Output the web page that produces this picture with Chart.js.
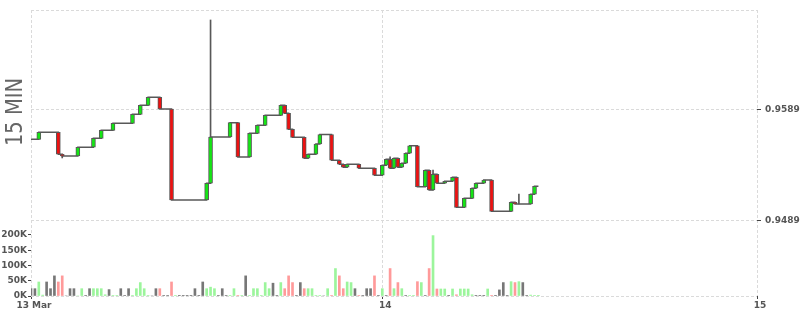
<!DOCTYPE html>
<html>
<head>
<meta charset="utf-8">
<script src="https://cdn.jsdelivr.net/npm/chart.js@4.4.1/dist/chart.umd.min.js"></script>
<style>
    body { margin: 0; background: #fff; }
    #wrap { width: 800px; height: 315px; }
</style>
</head>
<body>
<div id="wrap"><canvas id="myChart" width="800" height="315"></canvas></div>
<script>
// 15 min candles, first one 13 Mar 01:30 (x in hours from 13 Mar 00:00)
const startHour = 1.5
const stepHours = 0.25

const opens = [
    0.95626, 0.95626, 0.95626, 0.95689, 0.95689, 0.95689, 0.95689, 0.95689, 0.95491, 0.95476,
    0.95476, 0.95476, 0.95476, 0.95554, 0.95554, 0.95554, 0.95554, 0.95635, 0.95635, 0.95707,
    0.95707, 0.95707, 0.95770, 0.95770, 0.95770, 0.95770, 0.95770, 0.95851, 0.95851, 0.95932,
    0.95932, 0.96004, 0.96004, 0.96004, 0.95899, 0.95899, 0.95899, 0.95079, 0.95079, 0.95079,
    0.95079, 0.95079, 0.95079, 0.95079, 0.95079, 0.95079, 0.95230, 0.95647, 0.95647, 0.95647,
    0.95647, 0.95647, 0.95776, 0.95776, 0.95467, 0.95467, 0.95467, 0.95680, 0.95680, 0.95752,
    0.95752, 0.95842, 0.95842, 0.95842, 0.95842, 0.95932, 0.95860, 0.95716, 0.95644, 0.95644,
    0.95644, 0.95455, 0.95491, 0.95491, 0.95584, 0.95669, 0.95669, 0.95669, 0.95437, 0.95437,
    0.95401, 0.95374, 0.95401, 0.95401, 0.95401, 0.95365, 0.95365, 0.95365, 0.95365, 0.95302,
    0.95302, 0.95392, 0.95446, 0.95365, 0.95455, 0.95374, 0.95410, 0.95500, 0.95568, 0.95568,
    0.95199, 0.95199, 0.95347, 0.95169, 0.95311, 0.95230, 0.95230, 0.95248, 0.95248, 0.95284,
    0.95013, 0.95013, 0.95094, 0.95094, 0.95185, 0.95230, 0.95230, 0.95259, 0.95259, 0.94977,
    0.94977, 0.94977, 0.94977, 0.94977, 0.95058, 0.95043, 0.95043, 0.95043, 0.95043, 0.95131,
    0.95203
]
const closes = [
    0.95626, 0.95626, 0.95689, 0.95689, 0.95689, 0.95689, 0.95689, 0.95491, 0.95476, 0.95476,
    0.95476, 0.95476, 0.95554, 0.95554, 0.95554, 0.95554, 0.95635, 0.95635, 0.95707, 0.95707,
    0.95707, 0.95770, 0.95770, 0.95770, 0.95770, 0.95770, 0.95851, 0.95851, 0.95932, 0.95932,
    0.96004, 0.96004, 0.96004, 0.95899, 0.95899, 0.95899, 0.95079, 0.95079, 0.95079, 0.95079,
    0.95079, 0.95079, 0.95079, 0.95079, 0.95079, 0.95230, 0.95647, 0.95647, 0.95647, 0.95647,
    0.95647, 0.95776, 0.95776, 0.95467, 0.95467, 0.95467, 0.95680, 0.95680, 0.95752, 0.95752,
    0.95842, 0.95842, 0.95842, 0.95842, 0.95932, 0.95860, 0.95716, 0.95644, 0.95644, 0.95644,
    0.95455, 0.95491, 0.95491, 0.95584, 0.95669, 0.95669, 0.95669, 0.95437, 0.95437, 0.95401,
    0.95374, 0.95401, 0.95401, 0.95401, 0.95365, 0.95365, 0.95365, 0.95365, 0.95302, 0.95302,
    0.95392, 0.95446, 0.95365, 0.95455, 0.95374, 0.95410, 0.95500, 0.95568, 0.95568, 0.95199,
    0.95199, 0.95347, 0.95169, 0.95311, 0.95230, 0.95230, 0.95248, 0.95248, 0.95284, 0.95013,
    0.95013, 0.95094, 0.95094, 0.95185, 0.95230, 0.95230, 0.95259, 0.95259, 0.94977, 0.94977,
    0.94977, 0.94977, 0.94977, 0.95058, 0.95043, 0.95043, 0.95043, 0.95043, 0.95131, 0.95203,
    0.95203
]
// candles with a visible wick: index, low, high
const wickAt = [8, 46, 92, 103, 125]
const wickLow = [0.95458, 0.95230, 0.95365, 0.95169, 0.95043]
const wickHigh = [0.95491, 0.96701, 0.95469, 0.95349, 0.95133]

// volume in thousands, and its colour: 1 up, -1 down, 0 unchanged
const volumes = [
    24, 24, 46, 3, 46, 24, 66, 46, 66, 0,
    24, 24, 0, 24, 2, 24, 24, 24, 24, 4,
    21, 2, 2, 24, 2, 24, 2, 24, 44, 24,
    2, 0, 24, 24, 2, 2, 46, 2, 1, 1,
    1, 1, 24, 1, 46, 24, 29, 24, 2, 24,
    2, 2, 24, 2, 2, 66, 2, 24, 24, 2,
    44, 24, 42, 2, 44, 24, 66, 44, 2, 44,
    24, 24, 24, 2, 2, 0, 24, 2, 90, 66,
    24, 46, 44, 24, 2, 2, 24, 24, 66, 2,
    24, 2, 90, 24, 44, 24, 2, 2, 2, 47,
    44, 2, 90, 198, 23, 23, 23, 1, 23, 4,
    23, 23, 23, 4, 1, 1, 1, 23, 1, 1,
    20, 44, 2, 47, 44, 47, 44, 2, 3, 2,
    1
]
const volDir = [
    0, 0, 1, 1, 0, 0, 0, -1, -1, 0,
    0, 0, 1, 1, 0, 0, 1, 1, 1, 1,
    0, 1, 1, 0, 0, 0, 1, 1, 1, 1,
    1, 0, 0, -1, 0, 0, -1, 1, 0, 0,
    0, 0, 0, 0, 0, 1, 1, 1, 0, 0,
    0, 1, 1, -1, 1, 0, 1, 1, 1, 1,
    1, 1, 0, 0, 1, -1, -1, -1, 0, 0,
    -1, 1, 1, 1, 1, 0, 1, -1, 1, -1,
    -1, 1, 1, 0, -1, 0, 0, 0, -1, 0,
    1, 0, -1, 1, -1, 1, 0, 1, 1, -1,
    1, 0, -1, 1, -1, 1, 1, 0, 1, -1,
    1, 1, 1, 1, 0, 0, 0, 1, -1, 0,
    0, 0, 0, 1, -1, 1, 0, 0, 1, 1,
    1
]

const dayTicks = [1.5, 24, 48]
const dayLabels = ['13 Mar', '14', '15']
const priceTicks = [0.9489, 0.9589]
const priceMin = 0.942143
const priceMax = 0.967909
const volTicks = [0, 50, 100, 150, 200]
const volMax = 937.7

document.addEventListener('DOMContentLoaded', () => {
    drawChart()
})

function drawChart() {
    Chart.defaults.font.family = '"DejaVu Sans", Verdana, sans-serif'
    Chart.defaults.font.size = 9
    Chart.defaults.font.weight = 'bold'
    Chart.defaults.color = '#555'

    let times = closes.map((c, i) => startHour + i * stepHours)

    // candle bodies (flat candles have no body)
    let bodies = []
    let bodyColors = []
    closes.forEach((c, i) => {
        if (c === opens[i]) return
        bodies.push({ x: times[i], y: [opens[i], c] })
        bodyColors.push(c > opens[i] ? '#14e614' : '#ee1111')
    })

    let wicks = wickAt.map((i, k) => ({ x: times[i], y: [wickLow[k], wickHigh[k]] }))
    let closeLine = closes.map((c, i) => ({ x: times[i], y: c }))
    let vols = volumes.map((v, i) => ({ x: times[i], y: v * 1000 }))
    let volColors = volDir.map(d => d > 0 ? '#9cf59c' : (d < 0 ? '#ff9a9a' : '#777777'))

    const gridColor = '#dadada'
    const dash = [3, 2]

    // big rotated "15 MIN" caption on the left
    const sideTitle = {
        id: 'sideTitle',
        afterDraw(chart) {
            let ctx = chart.ctx
            ctx.save()
            ctx.translate(16, 112)
            ctx.rotate(-Math.PI / 2)
            ctx.font = '23px "DejaVu Sans", sans-serif'
            ctx.fillStyle = '#666'
            ctx.textAlign = 'center'
            ctx.textBaseline = 'middle'
            ctx.fillText('15 MIN', 0, 0, 68)
            ctx.restore()
        }
    }

    let ctx = document.getElementById('myChart')
    new Chart(ctx, {
        type: 'bar',
        data: {
            datasets: [
                {
                    type: 'line',
                    data: closeLine,
                    yAxisID: 'y',
                    stepped: true,
                    borderColor: '#585858',
                    borderWidth: 1.5,
                    pointRadius: 0,
                    order: 3
                },
                {
                    data: wicks,
                    yAxisID: 'y',
                    grouped: false,
                    barThickness: 1,
                    backgroundColor: '#585858',
                    borderWidth: 0,
                    order: 2
                },
                {
                    data: bodies,
                    yAxisID: 'y',
                    grouped: false,
                    barThickness: 4,
                    backgroundColor: bodyColors,
                    borderColor: '#585858',
                    borderWidth: 1,
                    borderSkipped: false,
                    order: 1
                },
                {
                    data: vols,
                    yAxisID: 'yVol',
                    grouped: false,
                    barThickness: 2,
                    backgroundColor: volColors,
                    borderWidth: 0,
                    order: 4
                }
            ]
        },
        options: {
            responsive: false,
            animation: false,
            layout: { padding: { top: 10, left: 0, right: 0, bottom: 0 } },
            plugins: {
                legend: { display: false },
                tooltip: { enabled: false }
            },
            scales: {
                x: {
                    type: 'linear',
                    min: dayTicks[0],
                    max: dayTicks[dayTicks.length - 1],
                    offset: false,
                    afterBuildTicks: axis => {
                        axis.ticks = dayTicks.map(v => ({ value: v }))
                    },
                    afterFit: scale => { scale.height = 19 },
                    ticks: {
                        autoSkip: false,
                        maxRotation: 0,
                        padding: 1,
                        labelOffset: 3,
                        callback: value => dayLabels[dayTicks.indexOf(value)] || ''
                    },
                    grid: {
                        offset: false,
                        color: gridColor,
                        tickColor: '#444',
                        tickLength: 3,
                        tickBorderDash: []
                    },
                    border: { display: false, dash: dash }
                },
                y: {
                    position: 'right',
                    min: priceMin,
                    max: priceMax,
                    afterBuildTicks: axis => {
                        axis.ticks = [priceMin].concat(priceTicks, [priceMax]).map(v => ({ value: v }))
                    },
                    afterFit: scale => { scale.width = 43 },
                    ticks: {
                        padding: 4,
                        callback: value => priceTicks.includes(value) ? value.toFixed(4) : ''
                    },
                    grid: {
                        color: gridColor,
                        tickColor: c => (c.tick && priceTicks.includes(c.tick.value)) ? '#444' : 'rgba(0,0,0,0)',
                        tickLength: 4,
                        tickBorderDash: []
                    },
                    border: { display: false, dash: dash }
                },
                yVol: {
                    position: 'left',
                    min: 0,
                    max: volMax * 1000,
                    afterBuildTicks: axis => {
                        axis.ticks = volTicks.map(v => ({ value: v * 1000 }))
                    },
                    afterFit: scale => { scale.width = 31 },
                    ticks: {
                        padding: 1,
                        callback: value => (value / 1000) + 'K'
                    },
                    grid: {
                        drawOnChartArea: false,
                        tickColor: '#444',
                        tickLength: 3,
                        tickBorderDash: []
                    },
                    border: { display: false }
                }
            }
        },
        plugins: [sideTitle]
    })
}
</script>
</body>
</html>
